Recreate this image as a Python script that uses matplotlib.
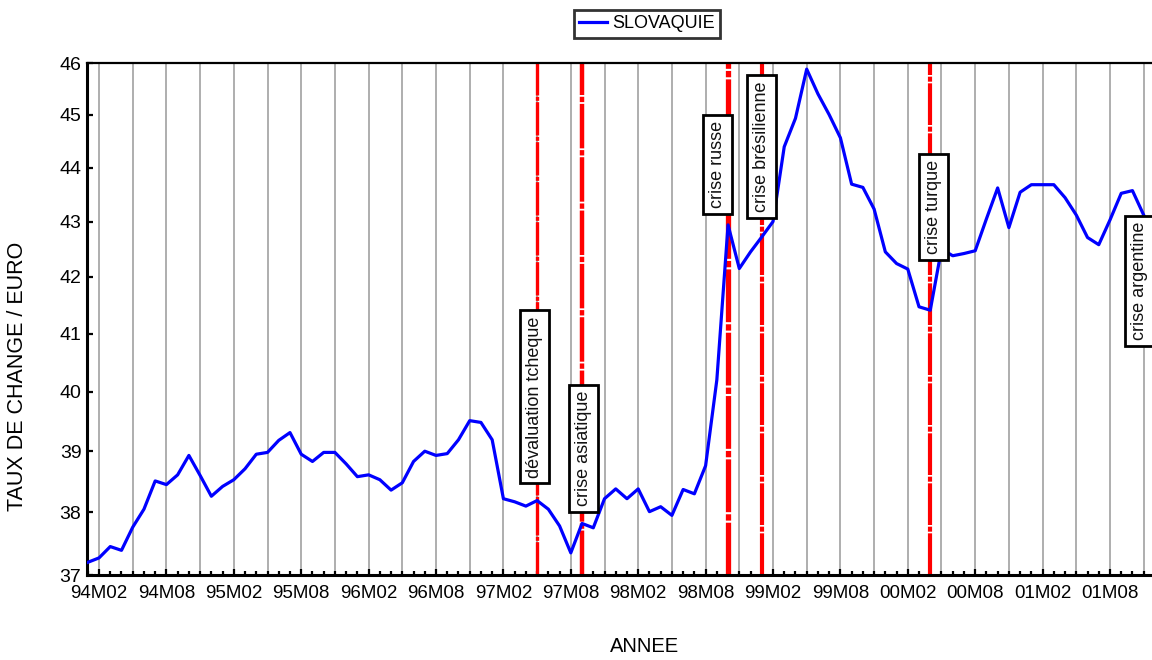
import numpy as np
import matplotlib.pyplot as plt
from matplotlib.ticker import FixedLocator, NullLocator, FixedFormatter
import matplotlib.transforms as mtransforms

plt.rcParams['font.family'] = ['Liberation Sans', 'DejaVu Sans']

# monthly exchange rate, 94M01 .. 01M11
slovaquie = [37.20, 37.27, 37.45, 37.39, 37.76, 38.05, 38.51, 38.45, 38.61, 38.93,
             38.60, 38.26, 38.42, 38.53, 38.71, 38.95, 38.98, 39.18, 39.31, 38.95,
             38.83, 38.98, 38.98, 38.79, 38.58, 38.61, 38.53, 38.36, 38.48, 38.83,
             39.00, 38.93, 38.96, 39.19, 39.51, 39.48, 39.19, 38.22, 38.17, 38.10,
             38.19, 38.05, 37.78, 37.35, 37.82, 37.75, 38.22, 38.38, 38.22, 38.38,
             38.01, 38.09, 37.95, 38.37, 38.30, 38.76, 40.20, 42.94, 42.15, 42.45,
             42.72, 43.00, 44.39, 44.93, 45.88, 45.40, 45.00, 44.56, 43.69, 43.63,
             43.23, 42.45, 42.24, 42.14, 41.47, 41.41, 42.50, 42.38, 42.42, 42.47,
             43.05, 43.62, 42.89, 43.54, 43.68, 43.68, 43.68, 43.44, 43.12, 42.71,
             42.58, 43.03, 43.52, 43.57, 43.12]

tick_labels = ['94M02', '94M08', '95M02', '95M08', '96M02', '96M08', '97M02', '97M08',
               '98M02', '98M08', '99M02', '99M08', '00M02', '00M08', '01M02', '01M08']
tick_months = list(range(1, 92, 6))

# crisis events: month index of the red line
event_names = ['dévaluation tcheque', 'crise asiatique', 'crise russe',
               'crise brésilienne', 'crise turque']
event_months = [40, 44, 57, 60, 75]
event_lw = [2.4, 3.2, 3.8, 3.0, 3.0]

# label boxes: x in months, y in axes fraction
label_names = event_names + ['crise argentine']
label_x = [39.77, 44.1, 56.09, 60.0, 75.25, 93.6]
label_y = [0.348, 0.2475, 0.802, 0.837, 0.718, 0.574]

months = np.arange(len(slovaquie))

fig = plt.figure(figsize=(11.52, 6.60), dpi=100)
ax = fig.add_axes([87 / 1152, 1 - 575 / 660, 1 - 87 / 1152, (575 - 63) / 660])

# vertical grid every quarter
for g in range(1, 95, 3):
    ax.axvline(g, color='#999999', lw=1.1, zorder=1)

for m, lw in zip(event_months, event_lw):
    ax.axvline(m, color='#ff0000', lw=lw, zorder=2,
               linestyle=(0, (10, 0.4, 1.2, 0.4)))

ax.plot(months, slovaquie, color='#0000ff', lw=2.3, zorder=3, label='SLOVAQUIE')

trans = mtransforms.blended_transform_factory(ax.transData, ax.transAxes)
for name, x, y in zip(label_names, label_x, label_y):
    ax.text(x, y, name, rotation=90, transform=trans, ha='center', va='center',
            fontsize=13, color='#111111', zorder=5, clip_on=False,
            bbox=dict(boxstyle='square,pad=0.33', fc='white', ec='black', lw=2))

ax.set_yscale('log')
ax.set_ylim(37, 46)
ax.set_xlim(-0.07, 94.74)
ax.yaxis.set_major_locator(FixedLocator(range(37, 47)))
ax.yaxis.set_major_formatter(FixedFormatter([str(v) for v in range(37, 47)]))
ax.yaxis.set_minor_locator(NullLocator())
ax.xaxis.set_major_locator(FixedLocator(tick_months))
ax.xaxis.set_major_formatter(FixedFormatter(tick_labels))
ax.xaxis.set_minor_locator(FixedLocator(range(0, 95)))

ax.tick_params(axis='both', which='both', direction='in', width=1.6, color='black')
ax.tick_params(axis='x', which='major', length=4, labelsize=13.5, pad=7)
ax.tick_params(axis='x', which='minor', length=3)
ax.tick_params(axis='y', which='major', length=4, labelsize=14, pad=4)

for side in ['left', 'bottom']:
    ax.spines[side].set_linewidth(2.2)
ax.spines['top'].set_linewidth(1.6)
ax.spines['right'].set_visible(False)

leg = fig.legend(loc='center', bbox_to_anchor=(647 / 1152, 1 - 24 / 660), fontsize=13,
                 frameon=True, fancybox=False, handlelength=1.5, handletextpad=0.3,
                 borderpad=0.3, borderaxespad=0)
leg.get_frame().set_edgecolor('black')
leg.get_frame().set_linewidth(2)

fig.text(645 / 1152, 1 - 647 / 660, 'ANNEE', ha='center', va='center', fontsize=14.5)
fig.text(18 / 1152, 1 - 376 / 660, 'TAUX DE CHANGE / EURO', rotation=90,
         ha='center', va='center', fontsize=15.5)

fig.savefig('out.png', dpi=100)
